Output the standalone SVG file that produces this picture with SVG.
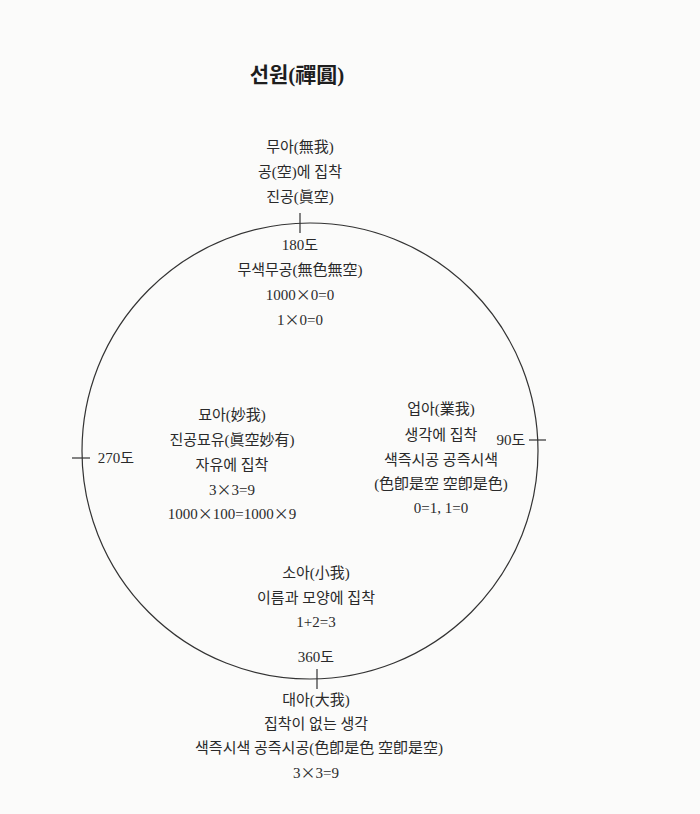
<svg xmlns="http://www.w3.org/2000/svg" width="700" height="814" viewBox="0 0 700 814">
<style>
text{font-family:"Liberation Serif","Noto Sans CJK KR",serif;font-size:15px;fill:#2a2a2a;text-anchor:middle}
.title{font-size:21px;font-weight:bold;fill:#1e1e1e}
.x{font-family:"Noto Sans CJK KR",sans-serif;font-size:15px}
.line{stroke:#333;stroke-width:1.2;fill:none}
</style>
<rect width="700" height="814" fill="#fbfbfa"/>
<g id="title"><text class="title" x="297" y="82">선원(禪圓)</text></g>
<g id="circle">
<circle class="line" cx="310" cy="451" r="228"/>
</g>
<g id="connectors">
<line class="line" x1="300" y1="213" x2="300" y2="233"/>
<line class="line" x1="317" y1="669" x2="317" y2="689"/>
<line class="line" x1="72" y1="458" x2="90" y2="458"/>
<line class="line" x1="529" y1="440" x2="546" y2="440"/>
</g>
<g id="node-top">
<text x="300" y="152">무아(無我)</text>
<text x="300" y="177">공(空)에 집착</text>
<text x="300" y="202">진공(眞空)</text>
</g>
<g id="node-180">
<text x="300" y="250">180도</text>
<text x="300" y="275">무색무공(無色無空)</text>
<text x="300" y="300">1000<tspan class="x">×</tspan>0=0</text>
<text x="300" y="325">1<tspan class="x">×</tspan>0=0</text>
</g>
<g id="node-left">
<text x="116" y="463">270도</text>
<text x="232" y="420">묘아(妙我)</text>
<text x="232" y="445">진공묘유(眞空妙有)</text>
<text x="232" y="470">자유에 집착</text>
<text x="232" y="495">3<tspan class="x">×</tspan>3=9</text>
<text x="232" y="519">1000<tspan class="x">×</tspan>100=1000<tspan class="x">×</tspan>9</text>
</g>
<g id="node-right">
<text x="511" y="445">90도</text>
<text x="441" y="414">업아(業我)</text>
<text x="441" y="440">생각에 집착</text>
<text x="441" y="465">색즉시공 공즉시색</text>
<text x="441" y="489">(色卽是空 空卽是色)</text>
<text x="441" y="513">0=1, 1=0</text>
</g>
<g id="node-bottom-inner">
<text x="316" y="578">소아(小我)</text>
<text x="316" y="603">이름과 모양에 집착</text>
<text x="316" y="627">1+2=3</text>
<text x="316" y="662">360도</text>
</g>
<g id="node-bottom">
<text x="316" y="705">대아(大我)</text>
<text x="316" y="729">집착이 없는 생각</text>
<text x="319" y="753">색즉시색 공즉시공(色卽是色 空卽是空)</text>
<text x="316" y="778">3<tspan class="x">×</tspan>3=9</text>
</g>
</svg>
